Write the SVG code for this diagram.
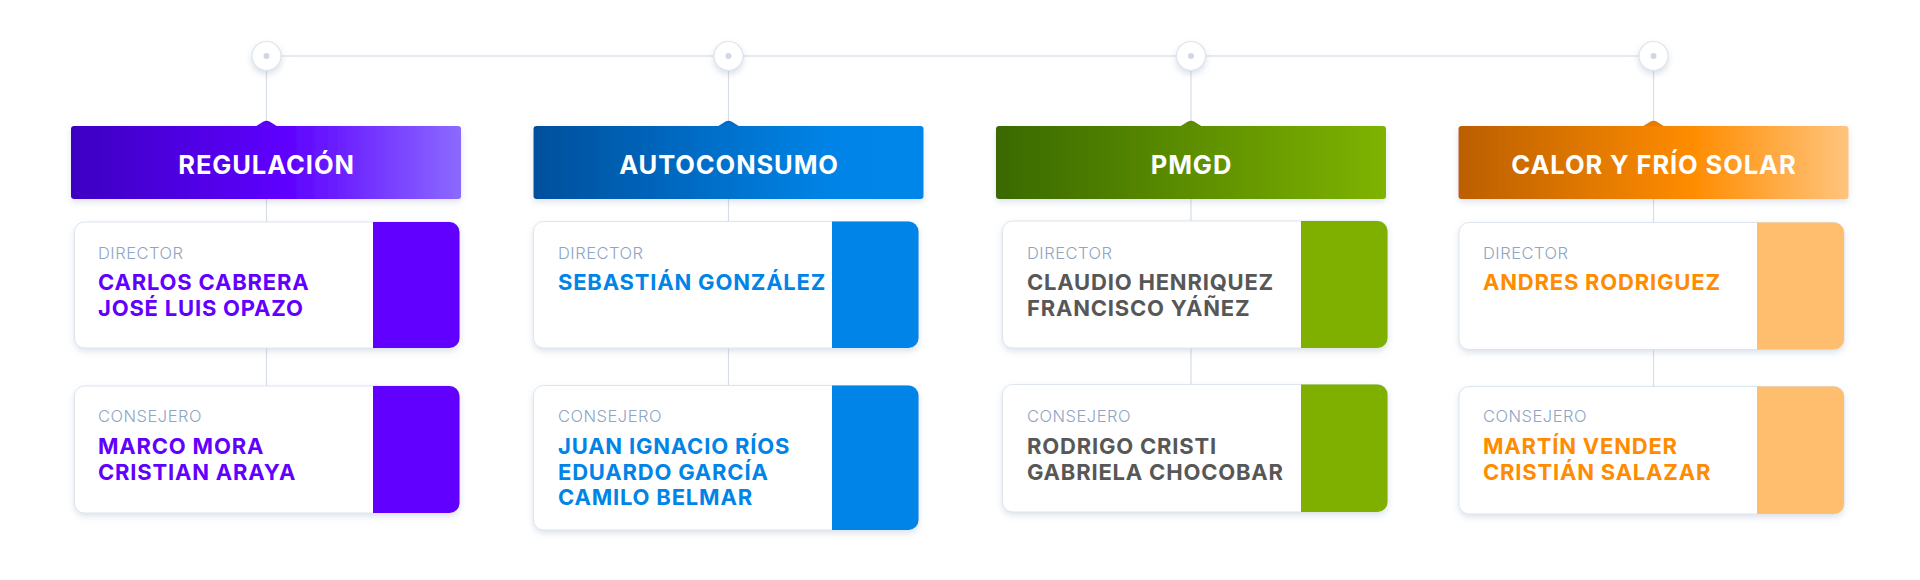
<svg xmlns="http://www.w3.org/2000/svg" width="1920" height="580" viewBox="0 0 1920 580">
<defs>
<linearGradient id="g1" x1="0" x2="1" y1="0" y2="0"><stop offset="0" stop-color="#3d00c2"/><stop offset="0.55" stop-color="#5e00ff"/><stop offset="1" stop-color="#8b6aff"/></linearGradient>
<linearGradient id="g2" x1="0" x2="1" y1="0" y2="0"><stop offset="0" stop-color="#004f9c"/><stop offset="0.75" stop-color="#0083e6"/><stop offset="1" stop-color="#0086ea"/></linearGradient>
<linearGradient id="g3" x1="0" x2="1" y1="0" y2="0"><stop offset="0" stop-color="#3a6900"/><stop offset="1" stop-color="#7fb300"/></linearGradient>
<linearGradient id="g4" x1="0" x2="1" y1="0" y2="0"><stop offset="0" stop-color="#bb5f00"/><stop offset="0.6" stop-color="#ff8c00"/><stop offset="1" stop-color="#ffc47d"/></linearGradient>
<filter id="sh" x="-10%" y="-20%" width="120%" height="150%"><feDropShadow dx="0" dy="3" stdDeviation="3" flood-color="#8fa3bf" flood-opacity="0.3"/></filter>
<filter id="shc" x="-60%" y="-60%" width="220%" height="220%"><feDropShadow dx="0" dy="3" stdDeviation="3" flood-color="#8fa3bf" flood-opacity="0.35"/></filter>
</defs>
<style>
.card{fill:#fff;stroke:#dde4ec;stroke-width:1;filter:url(#sh)}
.hdr{filter:url(#sh)}
.ht{font-family:Inter,"Liberation Sans",sans-serif;font-weight:700;font-size:25.5px;letter-spacing:0.9px;fill:#fff;text-anchor:middle}
.lbl{font-family:Inter,"Liberation Sans",sans-serif;font-weight:300;font-size:16.5px;letter-spacing:0.5px;fill:#8ea5c4}
.nm{font-family:Inter,"Liberation Sans",sans-serif;font-weight:700;font-size:22px;letter-spacing:0.8px}
.c1{fill:#6200ff}.c2{fill:#0084e8}.c3{fill:#575757}.c4{fill:#ff8c00}
.dot{fill:#fff;stroke:#dfe5ec;stroke-width:1.2;filter:url(#shc)}
.dc{fill:#cfd8e3}
</style>
<rect width="1920" height="580" fill="#fff"/>
<g id="connectors" fill="none">
<line x1="266.5" y1="56" x2="1653.5" y2="56" stroke="#e6eaf0" stroke-width="2"/>
<line x1="266.5" y1="56" x2="266.5" y2="386" stroke="#d6dde6" stroke-width="1.2"/>
<line x1="728.5" y1="56" x2="728.5" y2="386" stroke="#d6dde6" stroke-width="1.2"/>
<line x1="1191" y1="56" x2="1191" y2="386" stroke="#d6dde6" stroke-width="1.2"/>
<line x1="1653.5" y1="56" x2="1653.5" y2="386" stroke="#d6dde6" stroke-width="1.2"/>
</g>
<g id="dots">
<circle class="dot" cx="266.5" cy="56" r="14.5"/><circle class="dc" cx="266.5" cy="56" r="3"/>
<circle class="dot" cx="728.5" cy="56" r="14.5"/><circle class="dc" cx="728.5" cy="56" r="3"/>
<circle class="dot" cx="1191" cy="56" r="14.5"/><circle class="dc" cx="1191" cy="56" r="3"/>
<circle class="dot" cx="1653.5" cy="56" r="14.5"/><circle class="dc" cx="1653.5" cy="56" r="3"/>
</g>
<g id="h-regulacion">
<path d="M255.5 126.5 L263.5 121.5 Q266.5 119.8 269.5 121.5 L277.5 126.5 Z" fill="#5a00f2"/>
<rect class="hdr" x="71" y="126" width="390" height="73" rx="3" fill="url(#g1)"/>
<text class="ht" x="266.5" y="174">REGULACIÓN</text>
</g>
<g id="h-autoconsumo">
<path d="M717.5 126.5 L725.5 121.5 Q728.5 119.8 731.5 121.5 L739.5 126.5 Z" fill="#006ac7"/>
<rect class="hdr" x="533.5" y="126" width="390" height="73" rx="3" fill="url(#g2)"/>
<text class="ht" x="729" y="174">AUTOCONSUMO</text>
</g>
<g id="h-pmgd">
<path d="M1180 126.5 L1188 121.5 Q1191 119.8 1194 121.5 L1202 126.5 Z" fill="#5a8c00"/>
<rect class="hdr" x="996" y="126" width="390" height="73" rx="3" fill="url(#g3)"/>
<text class="ht" x="1191.5" y="174">PMGD</text>
</g>
<g id="h-calor">
<path d="M1642.5 126.5 L1650.5 121.5 Q1653.5 119.8 1656.5 121.5 L1664.5 126.5 Z" fill="#e87a00"/>
<rect class="hdr" x="1458.5" y="126" width="390" height="73" rx="3" fill="url(#g4)"/>
<text class="ht" x="1654" y="174">CALOR Y FRÍO SOLAR</text>
</g>
<g id="c1-director">
<rect class="card" x="74.5" y="222" width="385" height="126" rx="10"/>
<path d="M373 222 H449.5 A10 10 0 0 1 459.5 232 V338 A10 10 0 0 1 449.5 348 H373 Z" fill="#6200ff"/>
<text class="lbl" x="98" y="259">DIRECTOR</text>
<text class="nm c1" x="98" y="290">CARLOS CABRERA</text>
<text class="nm c1" x="98" y="315.5">JOSÉ LUIS OPAZO</text>
</g>
<g id="c1-consejero">
<rect class="card" x="74.5" y="386" width="385" height="127" rx="10"/>
<path d="M373 386 H449.5 A10 10 0 0 1 459.5 396 V503 A10 10 0 0 1 449.5 513 H373 Z" fill="#6200ff"/>
<text class="lbl" x="98" y="422">CONSEJERO</text>
<text class="nm c1" x="98" y="454">MARCO MORA</text>
<text class="nm c1" x="98" y="479.5">CRISTIAN ARAYA</text>
</g>
<g id="c2-director">
<rect class="card" x="533.5" y="221.5" width="385" height="126.5" rx="10"/>
<path d="M832 221.5 H908.5 A10 10 0 0 1 918.5 231.5 V338 A10 10 0 0 1 908.5 348 H832 Z" fill="#0084e8"/>
<text class="lbl" x="558" y="259">DIRECTOR</text>
<text class="nm c2" x="558" y="290">SEBASTIÁN GONZÁLEZ</text>
</g>
<g id="c2-consejero">
<rect class="card" x="533.5" y="385.5" width="385" height="144.5" rx="10"/>
<path d="M832 385.5 H908.5 A10 10 0 0 1 918.5 395.5 V520 A10 10 0 0 1 908.5 530 H832 Z" fill="#0084e8"/>
<text class="lbl" x="558" y="422">CONSEJERO</text>
<text class="nm c2" x="558" y="454">JUAN IGNACIO RÍOS</text>
<text class="nm c2" x="558" y="479.5">EDUARDO GARCÍA</text>
<text class="nm c2" x="558" y="505">CAMILO BELMAR</text>
</g>
<g id="c3-director">
<rect class="card" x="1002.5" y="221" width="385" height="127" rx="10"/>
<path d="M1301 221 H1377.5 A10 10 0 0 1 1387.5 231 V338 A10 10 0 0 1 1377.5 348 H1301 Z" fill="#7fb000"/>
<text class="lbl" x="1027" y="259">DIRECTOR</text>
<text class="nm c3" x="1027" y="290">CLAUDIO HENRIQUEZ</text>
<text class="nm c3" x="1027" y="315.5">FRANCISCO YÁÑEZ</text>
</g>
<g id="c3-consejero">
<rect class="card" x="1002.5" y="384.5" width="385" height="127.5" rx="10"/>
<path d="M1301 384.5 H1377.5 A10 10 0 0 1 1387.5 394.5 V502 A10 10 0 0 1 1377.5 512 H1301 Z" fill="#7fb000"/>
<text class="lbl" x="1027" y="422">CONSEJERO</text>
<text class="nm c3" x="1027" y="454">RODRIGO CRISTI</text>
<text class="nm c3" x="1027" y="479.5">GABRIELA CHOCOBAR</text>
</g>
<g id="c4-director">
<rect class="card" x="1459" y="222.5" width="385" height="127" rx="10"/>
<path d="M1757 222.5 H1834 A10 10 0 0 1 1844 232.5 V339.5 A10 10 0 0 1 1834 349.5 H1757 Z" fill="#ffbd6e"/>
<text class="lbl" x="1483" y="259">DIRECTOR</text>
<text class="nm c4" x="1483" y="290">ANDRES RODRIGUEZ</text>
</g>
<g id="c4-consejero">
<rect class="card" x="1459" y="386.5" width="385" height="127.5" rx="10"/>
<path d="M1757 386.5 H1834 A10 10 0 0 1 1844 396.5 V504 A10 10 0 0 1 1834 514 H1757 Z" fill="#ffbd6e"/>
<text class="lbl" x="1483" y="422">CONSEJERO</text>
<text class="nm c4" x="1483" y="454">MARTÍN VENDER</text>
<text class="nm c4" x="1483" y="479.5">CRISTIÁN SALAZAR</text>
</g>
</svg>
